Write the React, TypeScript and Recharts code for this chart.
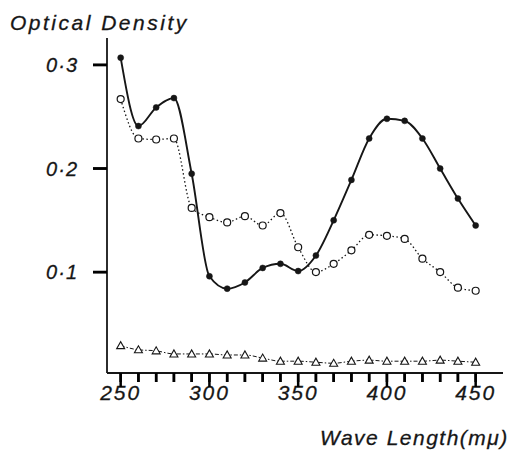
import { LineChart, Line, XAxis, YAxis, Label } from 'recharts';

const wavelengths = [250, 260, 270, 280, 290, 300, 310, 320, 330, 340, 350, 360, 370, 380, 390, 400, 410, 420, 430, 440, 450];
const filledDensity = [0.307, 0.241, 0.259, 0.268, 0.195, 0.096, 0.084, 0.09, 0.104, 0.108, 0.101, 0.116, 0.15, 0.189, 0.229, 0.248, 0.246, 0.229, 0.2, 0.171, 0.145];
const openDensity = [0.267, 0.229, 0.228, 0.229, 0.162, 0.153, 0.148, 0.154, 0.145, 0.157, 0.124, 0.1, 0.108, 0.121, 0.136, 0.135, 0.132, 0.113, 0.1, 0.085, 0.082];
const triangleDensity = [0.029, 0.025, 0.024, 0.021, 0.021, 0.021, 0.02, 0.02, 0.017, 0.014, 0.014, 0.013, 0.012, 0.014, 0.015, 0.014, 0.014, 0.014, 0.015, 0.014, 0.013];
const xTicks = [250, 260, 270, 280, 290, 300, 310, 320, 330, 340, 350, 360, 370, 380, 390, 400, 410, 420, 430, 440, 450];
const xLabelled = [250, 300, 350, 400, 450];
const yTicks = [0.1, 0.2, 0.3];

const INK = '#161616';
const TICK = '#000';
const FONT = '"Liberation Sans", Arial, sans-serif';

const data = wavelengths.map((wl, i) => ({
  wl,
  filled: filledDensity[i],
  open: openDensity[i],
  tri: triangleDensity[i],
}));

// x ticks: y comes in 9px below the axis (tickSize), the 50s get a longer mark + label
function XTick(props: any) {
  const { x, y, payload } = props;
  const major = xLabelled.includes(payload.value);
  return (
    <g>
      <text x={x} y={y + 18} textAnchor="middle" fontFamily={FONT} fontStyle="italic" fontSize={21} letterSpacing={2} fill={INK} stroke={INK} strokeWidth={0.3}>
        {major ? payload.value : ''}
      </text>
      <rect x={x - 1.25} y={y - 9} width={2.5} height={major ? 14 : 9} fill={TICK} stroke="none" />
    </g>
  );
}

function YTick(props: any) {
  const { x, y, payload } = props;
  return (
    <g>
      <text x={x} y={y} dy="0.36em" textAnchor="end" fontFamily={FONT} fontStyle="italic" fontSize={20} letterSpacing={1} fill={INK} stroke={INK} strokeWidth={0.3}>
        {String(payload.value).replace('.', '·')}
      </text>
      <rect x={x + 15} y={y - 1.25} width={14} height={2.5} fill={TICK} stroke="none" />
    </g>
  );
}

function Triangle(props: any) {
  const { cx, cy, index } = props;
  if (cx == null || cy == null) return <g key={`t-${index}`} />;
  return (
    <polygon
      key={`t-${index}`}
      points={`${cx - 4},${cy + 3} ${cx + 4},${cy + 3} ${cx},${cy - 4}`}
      fill="#fff"
      stroke={INK}
      strokeWidth={1.1}
    />
  );
}

export default function App() {
  return (
    <LineChart width={513} height={442} data={data} margin={{ top: 30, right: 18, left: 0, bottom: 0 }}>
      <XAxis
        dataKey="wl"
        type="number"
        domain={[242.3, 465.4]}
        ticks={xTicks}
        interval={0}
        height={77}
        tickSize={9}
        tickMargin={0}
        tickLine={{ stroke: TICK, strokeWidth: 2.5 }}
        tick={<XTick />}
        axisLine={{ stroke: INK, strokeWidth: 1.8 }}
      >
        <Label
          content={({ viewBox }: any) => (
            <text x={viewBox.x + 213} y={viewBox.y + 72} fontFamily={FONT} fontStyle="italic" fontSize={21} letterSpacing={1.5} fill={INK} stroke={INK} strokeWidth={0.3}>
              Wave Length(mμ)
            </text>
          )}
        />
      </XAxis>
      <YAxis
        type="number"
        domain={[0.0026, 0.326]}
        ticks={yTicks}
        width={99}
        tickSize={14}
        tickMargin={15}
        tickLine={{ stroke: TICK, strokeWidth: 2.5 }}
        tick={<YTick />}
        axisLine={{ stroke: INK, strokeWidth: 1.8 }}
      >
        <Label
          content={({ viewBox }: any) => (
            <text x={viewBox.x + 2} y={viewBox.y - 8} fontFamily={FONT} fontStyle="italic" fontSize={21} letterSpacing={2.5} fill={INK} stroke={INK} strokeWidth={0.3}>
              Optical Density
            </text>
          )}
        />
      </YAxis>
      <Line
        type="monotone"
        dataKey="tri"
        stroke={INK}
        strokeWidth={1}
        strokeDasharray="4 2 1.5 2"
        dot={(p: any) => <Triangle {...p} />}
        isAnimationActive={false}
      />
      <Line
        type="monotone"
        dataKey="open"
        stroke={INK}
        strokeWidth={1.3}
        strokeDasharray="1.5 2.5"
        dot={{ r: 3.5, fill: '#fff', stroke: INK, strokeWidth: 1.2, strokeDasharray: '' }}
        isAnimationActive={false}
      />
      <Line
        type="monotone"
        dataKey="filled"
        stroke={INK}
        strokeWidth={1.9}
        dot={{ r: 3, fill: INK, stroke: INK, strokeWidth: 0.5 }}
        isAnimationActive={false}
      />
    </LineChart>
  );
}
